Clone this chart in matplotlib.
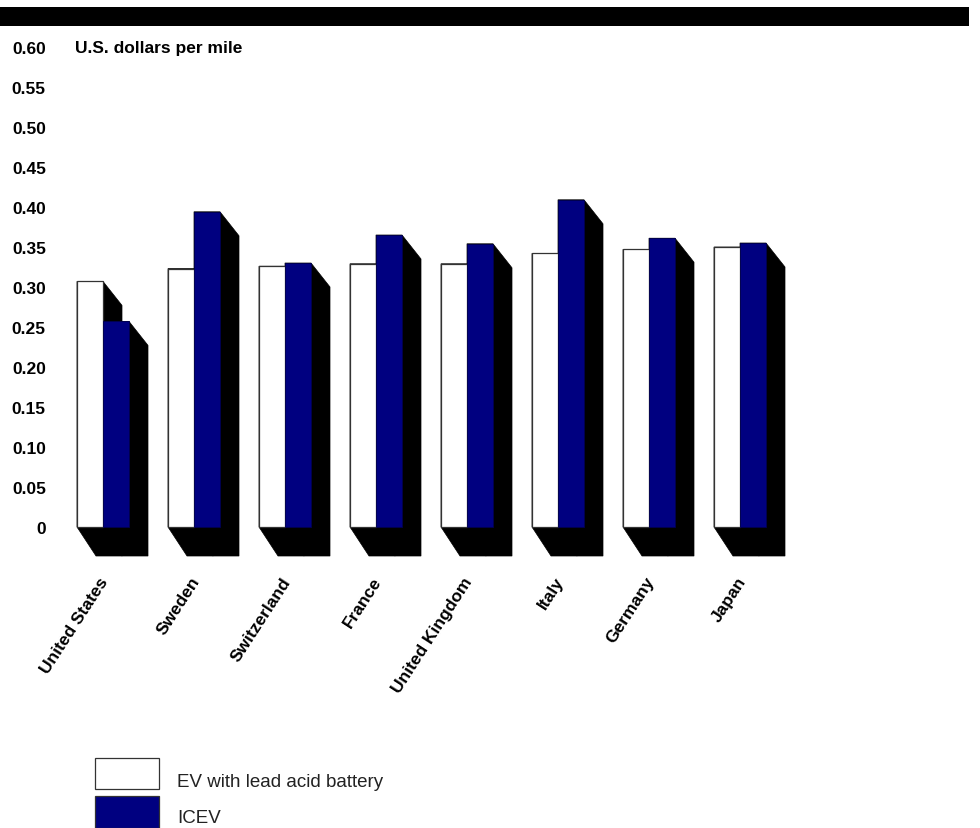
import matplotlib
matplotlib.use("Agg")
import matplotlib.pyplot as plt
from matplotlib.patches import Polygon, Rectangle

plt.rcParams['font.family'] = ['Liberation Sans', 'DejaVu Sans']

# data (U.S. dollars per mile)
countries = ["United States", "Sweden", "Switzerland", "France",
             "United Kingdom", "Italy", "Germany", "Japan"]
ev_lead_acid = [0.307, 0.323, 0.326, 0.329, 0.329, 0.342, 0.347, 0.350]
icev = [0.257, 0.394, 0.330, 0.365, 0.354, 0.409, 0.361, 0.355]
yticks = [0, 0.05, 0.10, 0.15, 0.20, 0.25, 0.30, 0.35, 0.40, 0.45, 0.50, 0.55, 0.60]
ytick_labels = ["0"] + [f"{t:.2f}" for t in yticks[1:]]

W, H = 980, 829
fig = plt.figure(figsize=(W / 100, H / 100), dpi=100)

# axes placed in pixel terms: x from 50px to right edge, y 0.60 at 48px, -0.05 at 568px
ax_left, ax_top, ax_bot = 50, 48, 568
ax = fig.add_axes([ax_left / W, 1 - ax_bot / H, 1 - ax_left / W, (ax_bot - ax_top) / H])
gap_px = 91.0        # pixels between groups
center0 = 103.0      # pixel of first group centre
ax.set_xlim((ax_left - center0) / gap_px, (W - center0) / gap_px)
ax.set_ylim(-0.05, 0.60)
px_y = (ax_bot - ax_top) / 0.65   # pixels per dollar

bw = 26 / gap_px
dx = 19 / gap_px
dy_top = 24 / px_y
dy_bot = 29 / px_y

navy = '#000080'


def shadow(x0, x1, top):
    pts = [(x0, top), (x1, top), (x1 + dx, top - dy_top),
           (x1 + dx, -dy_bot), (x0 + dx, -dy_bot), (x0, 0)]
    ax.add_patch(Polygon(pts, closed=True, facecolor='black', edgecolor='black',
                         lw=0.5, zorder=1))


xs = list(range(len(countries)))
for i in xs:
    shadow(i - bw, i, ev_lead_acid[i])
    shadow(i, i + bw, icev[i])

ax.bar([i - bw for i in xs], ev_lead_acid, width=bw, align='edge',
       color='white', edgecolor='#333333', lw=0.9, zorder=2)
ax.bar(xs, icev, width=bw, align='edge',
       color=navy, edgecolor='#000050', lw=0.6, zorder=2)

# country labels, rotated
for i, name in enumerate(countries):
    ax.text(i - 4 / gap_px, -(575 - 528) / px_y, name, rotation=57,
            rotation_mode='anchor', ha='right', va='top',
            fontsize=12.5, fontweight='bold', clip_on=False)

ax.set_yticks(yticks)
ax.set_yticklabels(ytick_labels, fontsize=12.5, fontweight='bold')
ax.tick_params(axis='y', length=0, pad=3)
ax.set_xticks([])
for s in ax.spines.values():
    s.set_visible(False)

ax.text((75 - center0) / gap_px, 0.60, "U.S. dollars per mile", ha='left',
        va='center', fontsize=12.5, fontweight='bold')

# black band at the top
fig.add_artist(Rectangle((0, 1 - 27 / H), 969 / W, 19 / H, transform=fig.transFigure,
                         facecolor='black', edgecolor='none'))

# legend
fig.add_artist(Rectangle((95 / W, 1 - 790 / H), 64 / W, 31 / H, transform=fig.transFigure,
                         facecolor='white', edgecolor='#333333', lw=0.9))
fig.add_artist(Rectangle((95 / W, 1 - 829 / H), 64 / W, 32 / H, transform=fig.transFigure,
                         facecolor=navy, edgecolor='#333333', lw=0.9))
fig.text(177 / W, 1 - 787 / H, "EV with lead acid battery", ha='left', va='baseline',
         fontsize=13.5, color='#222222')
fig.text(177 / W, 1 - 823 / H, "ICEV", ha='left', va='baseline',
         fontsize=13.5, color='#222222')

fig.savefig("out.png", dpi=100)
